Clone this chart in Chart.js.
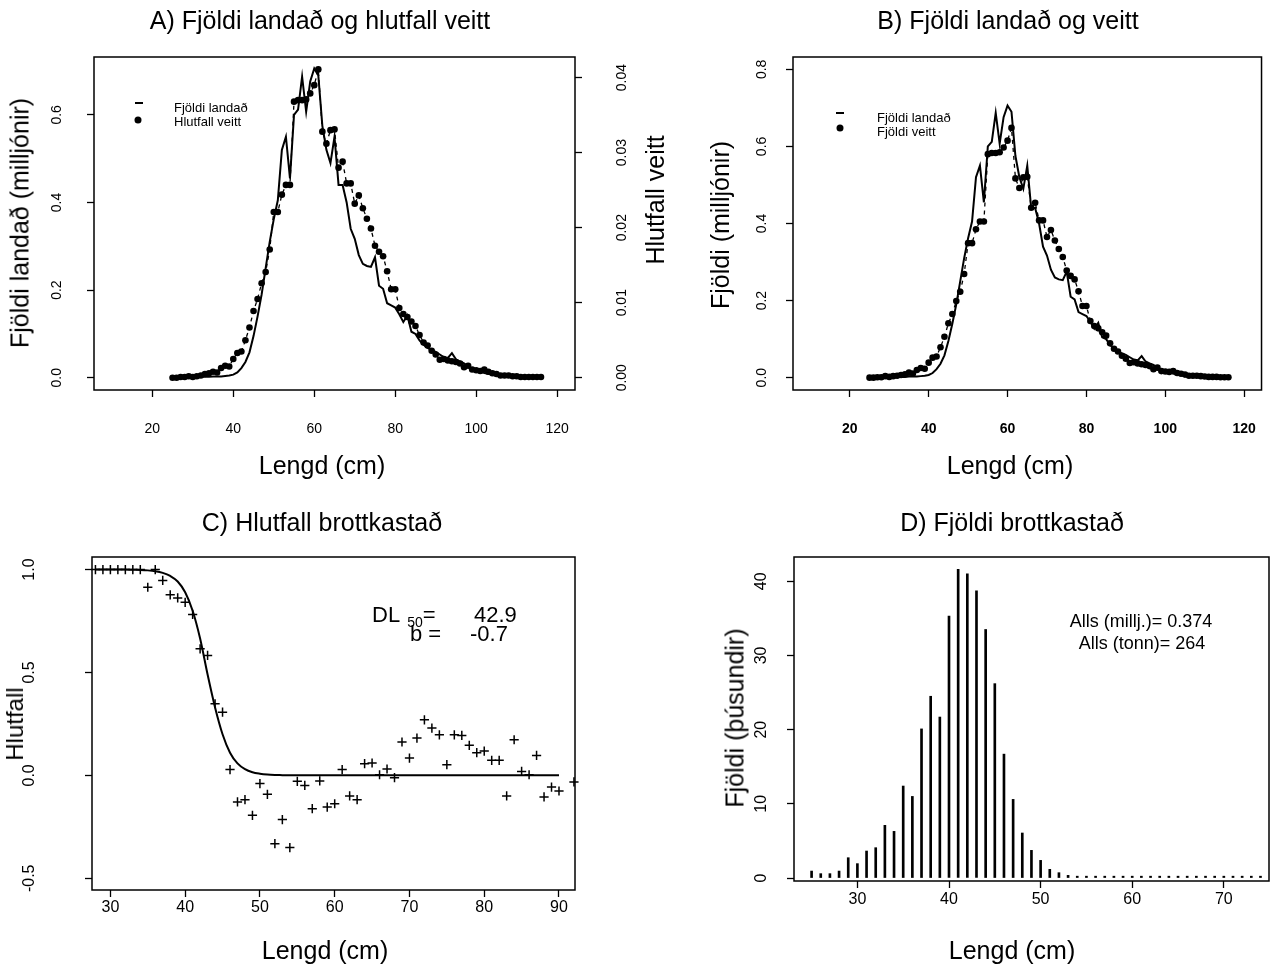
<!DOCTYPE html>
<html lang="is">
<head>
<meta charset="UTF-8">
<title>Fjöldi landað og brottkastað</title>
<script src="https://cdn.jsdelivr.net/npm/chart.js"></script>
<style>
    body { margin: 0; background: #fff; color: #000; font-family: "Liberation Sans", Arial, sans-serif; }
    #page { position: relative; width: 1280px; height: 978px; overflow: hidden; }
    canvas { position: absolute; }
    .t { position: absolute; white-space: nowrap; line-height: 1; transform: translate(-50%, -50%); }
    .rot { transform: translate(-50%, -50%) rotate(-90deg); }
    .big { font-size: 25px; }
    .l { position: absolute; white-space: nowrap; line-height: 1; transform: translateY(-50%); }
    .leg { font-size: 13px; }
    .dash { position: absolute; width: 8px; height: 2px; background: #000; }
    .dot { position: absolute; width: 7px; height: 7px; border-radius: 50%; background: #000; transform: translate(-50%, -50%); }
</style>
</head>
<body>
<div id="page">
    <canvas id="chA" width="640" height="489" style="left:0;top:0"></canvas>
    <canvas id="chB" width="640" height="489" style="left:640px;top:0"></canvas>
    <canvas id="chC" width="640" height="489" style="left:0;top:489px"></canvas>
    <canvas id="chD" width="640" height="489" style="left:640px;top:489px"></canvas>

    <!-- titles -->
    <div class="t big" style="left:320px;top:20px">A) Fjöldi landað og hlutfall veitt</div>
    <div class="t big" style="left:1008px;top:20px">B) Fjöldi landað og veitt</div>
    <div class="t big" style="left:322px;top:522px">C) Hlutfall brottkastað</div>
    <div class="t big" style="left:1012px;top:522px">D) Fjöldi brottkastað</div>

    <!-- axis titles -->
    <div class="t big" style="left:322px;top:465px">Lengd (cm)</div>
    <div class="t big" style="left:1010px;top:465px">Lengd (cm)</div>
    <div class="t big" style="left:325px;top:950px">Lengd (cm)</div>
    <div class="t big" style="left:1012px;top:950px">Lengd (cm)</div>
    <div class="t big rot" style="left:20px;top:223px">Fjöldi landað (milljónir)</div>
    <div class="t big rot" style="left:655px;top:200px">Hlutfall veitt</div>
    <div class="t big rot" style="left:720px;top:225px">Fjöldi (milljónir)</div>
    <div class="t rot" style="left:15px;top:724px;font-size:24px">Hlutfall</div>
    <div class="t big rot" style="left:735px;top:718px">Fjöldi (þúsundir)</div>

    <!-- legends -->
    <div class="dash" style="left:135px;top:102px"></div>
    <div class="dot" style="left:138px;top:120px"></div>
    <div class="l leg" style="left:174px;top:107px">Fjöldi landað</div>
    <div class="l leg" style="left:174px;top:121px">Hlutfall veitt</div>
    <div class="dash" style="left:836px;top:112px"></div>
    <div class="dot" style="left:840px;top:128px"></div>
    <div class="l leg" style="left:877px;top:117px">Fjöldi landað</div>
    <div class="l leg" style="left:877px;top:131px">Fjöldi veitt</div>

    <!-- C annotation -->
    <div class="l" style="left:372px;top:615px;font-size:22px">DL<span style="font-size:14px;position:relative;top:5px;margin-left:7px">50</span>=</div>
    <div class="l" style="left:474px;top:615px;font-size:22px">42.9</div>
    <div class="l" style="left:410px;top:634px;font-size:22px">b =</div>
    <div class="l" style="left:470px;top:634px;font-size:22px">-0.7</div>

    <!-- D annotation -->
    <div class="t" style="left:1141px;top:621px;font-size:18px">Alls (millj.)= 0.374</div>
    <div class="t" style="left:1142px;top:643px;font-size:18px">Alls (tonn)= 264</div>
</div>

<script>
    // A og B: lengdir, landaður fjöldi og veitt
    const lengdAB = [
        25, 26, 27, 28, 29, 30, 31, 32, 33, 34,
        35, 36, 37, 38, 39, 40, 41, 42, 43, 44,
        45, 46, 47, 48, 49, 50, 51, 52, 53, 54,
        55, 56, 57, 58, 59, 60, 61, 62, 63, 64,
        65, 66, 67, 68, 69, 70, 71, 72, 73, 74,
        75, 76, 77, 78, 79, 80, 81, 82, 83, 84,
        85, 86, 87, 88, 89, 90, 91, 92, 93, 94,
        95, 96, 97, 98, 99, 100, 101, 102, 103, 104,
        105, 106, 107, 108, 109, 110, 111, 112, 113, 114,
        115, 116
    ];
    const landad = [
        0.001, 0.001, 0.001, 0.001, 0.001, 0.002, 0.002, 0.002, 0.002, 0.002,
        0.003, 0.003, 0.003, 0.004, 0.005, 0.007, 0.012, 0.022, 0.036, 0.058,
        0.095, 0.140, 0.190, 0.250, 0.310, 0.362, 0.405, 0.520, 0.550, 0.455,
        0.600, 0.612, 0.687, 0.607, 0.676, 0.706, 0.690, 0.575, 0.520, 0.490,
        0.550, 0.440, 0.440, 0.400, 0.340, 0.317, 0.280, 0.260, 0.255, 0.253,
        0.275, 0.210, 0.203, 0.170, 0.165, 0.160, 0.145, 0.127, 0.142, 0.105,
        0.100, 0.085, 0.075, 0.068, 0.063, 0.059, 0.053, 0.047, 0.045, 0.056,
        0.042, 0.037, 0.033, 0.026, 0.020, 0.017, 0.014, 0.011, 0.009, 0.007,
        0.006, 0.005, 0.004, 0.003, 0.002, 0.002, 0.001, 0.001, 0.001, 0.001,
        0.001, 0.001
    ];
    const hlutfallVeitt = [
        0, 0, 0.0001, 0.0001, 0.0002, 0.0001, 0.0002, 0.0003, 0.0005, 0.0006,
        0.0008, 0.0007, 0.0013, 0.0016, 0.0015, 0.0025, 0.0033, 0.0035, 0.0050, 0.0067,
        0.0089, 0.0105, 0.0126, 0.0141, 0.0171, 0.0221, 0.0221, 0.0244, 0.0257, 0.0257,
        0.0368, 0.0370, 0.0370, 0.0371, 0.0379, 0.0390, 0.0411, 0.0328, 0.0312, 0.0330,
        0.0331, 0.0280, 0.0288, 0.0259, 0.0259, 0.0232, 0.0243, 0.0226, 0.0212, 0.0199,
        0.0176, 0.0168, 0.0162, 0.0142, 0.0118, 0.0118, 0.0093, 0.0085, 0.0081, 0.0075,
        0.0069, 0.0057, 0.0047, 0.0043, 0.0036, 0.0031, 0.0024, 0.0025, 0.0023, 0.0022,
        0.0021, 0.0019, 0.0014, 0.0016, 0.0011, 0.0010, 0.0009, 0.0011, 0.0008, 0.0006,
        0.0005, 0.0003, 0.0003, 0.0003, 0.0002, 0.0002, 0.0001, 0.0001, 0.0001, 0.0001,
        0.0001, 0.0001
    ];
    const fjoldiVeitt = [
        0, 0, 0.001, 0.001, 0.004, 0.002, 0.004, 0.005, 0.007, 0.009,
        0.013, 0.011, 0.020, 0.025, 0.023, 0.039, 0.052, 0.055, 0.079, 0.106,
        0.141, 0.165, 0.199, 0.223, 0.269, 0.349, 0.349, 0.385, 0.405, 0.405,
        0.580, 0.583, 0.583, 0.585, 0.597, 0.615, 0.648, 0.517, 0.492, 0.520,
        0.521, 0.441, 0.454, 0.408, 0.408, 0.365, 0.383, 0.356, 0.334, 0.313,
        0.278, 0.264, 0.255, 0.224, 0.186, 0.186, 0.147, 0.134, 0.128, 0.118,
        0.109, 0.089, 0.075, 0.068, 0.057, 0.049, 0.038, 0.040, 0.037, 0.035,
        0.033, 0.030, 0.022, 0.026, 0.017, 0.016, 0.015, 0.017, 0.012, 0.010,
        0.008, 0.005, 0.005, 0.005, 0.004, 0.003, 0.002, 0.002, 0.002, 0.001,
        0.001, 0.001
    ];

    // C: hlutfall brottkastað og aðfelld kúrfa
    const lengdC = [
        28, 29, 30, 31, 32, 33, 34, 35, 36, 37,
        38, 39, 40, 41, 42, 43, 44, 45, 46, 47,
        48, 49, 50, 51, 52, 53, 54, 55, 56, 57,
        58, 59, 60, 61, 62, 63, 64, 65, 66, 67,
        68, 69, 70, 71, 72, 73, 74, 75, 76, 77,
        78, 79, 80, 81, 82, 83, 84, 85, 86, 87,
        88, 89, 90, 92
    ];
    const hlutfallBrott = [
        1.0, 1.0, 1.0, 1.0, 1.0, 1.0, 1.0, 0.914, 1.0, 0.947,
        0.877, 0.862, 0.841, 0.782, 0.615, 0.583, 0.348, 0.307, 0.028, -0.129,
        -0.118, -0.194, -0.040, -0.092, -0.332, -0.215, -0.351, -0.029, -0.049, -0.162,
        -0.027, -0.154, -0.138, 0.028, -0.100, -0.118, 0.057, 0.060, 0.003, 0.031,
        -0.011, 0.162, 0.084, 0.181, 0.270, 0.230, 0.197, 0.052, 0.197, 0.194,
        0.146, 0.110, 0.118, 0.073, 0.073, -0.100, 0.173, 0.019, 0.003, 0.097,
        -0.105, -0.057, -0.076, -0.032
    ];
    const lengdKurfa = [
        28, 29, 30, 31, 32, 33, 34, 35, 36, 37,
        38, 39, 40, 41, 42, 43, 44, 45, 46, 47,
        48, 49, 50, 51, 52, 53, 54, 56, 60, 70, 80, 90
    ];
    const kurfa = [
        1.000, 1.000, 1.000, 1.000, 1.000, 0.999, 0.998, 0.996, 0.992, 0.984,
        0.969, 0.942, 0.890, 0.800, 0.665, 0.490, 0.330, 0.200, 0.110, 0.058,
        0.030, 0.015, 0.008, 0.004, 0.002, 0.001, 0, 0, 0, 0, 0, 0
    ];

    // D: fjöldi brottkastað (þúsundir)
    const lengdD = [
        25, 26, 27, 28, 29, 30, 31, 32, 33, 34,
        35, 36, 37, 38, 39, 40, 41, 42, 43, 44,
        45, 46, 47, 48, 49, 50, 51, 52, 53, 54,
        55, 56, 57, 58, 59, 60, 61, 62, 63, 64,
        65, 66, 67, 68, 69, 70, 71, 72, 73, 74
    ];
    const fjoldiBrott = [
        0.94, 0.59, 0.59, 0.94, 2.74, 1.94, 3.64, 4.09, 7.10, 6.29,
        12.4, 11.0, 20.1, 24.5, 21.7, 35.3, 41.6, 41.0, 38.7, 33.5,
        26.2, 16.7, 10.6, 6.07, 3.73, 2.38, 1.17, 0.72, 0.36, 0.25,
        0.25, 0.25, 0.25, 0.25, 0.25, 0.25, 0.25, 0.25, 0.25, 0.25,
        0.25, 0.25, 0.25, 0.25, 0.25, 0.25, 0.25, 0.25, 0.25, 0.25
    ];

    // tick values and labels
    const xTickAB = [20, 40, 60, 80, 100, 120];
    const yTickA = [0, 0.2, 0.4, 0.6];
    const yLabA = ['0.0', '0.2', '0.4', '0.6'];
    const y2TickA = [0, 0.01, 0.02, 0.03, 0.04];
    const y2LabA = ['0.00', '0.01', '0.02', '0.03', '0.04'];
    const yTickB = [0, 0.2, 0.4, 0.6, 0.8];
    const yLabB = ['0.0', '0.2', '0.4', '0.6', '0.8'];
    const xTickC = [30, 40, 50, 60, 70, 80, 90];
    const yTickC = [-0.5, 0, 0.5, 1];
    const yLabC = ['-0.5', '0.0', '0.5', '1.0'];
    const xTickD = [30, 40, 50, 60, 70];
    const yTickD = [0, 10, 20, 30, 40];
    const yLabD = ['0', '10', '20', '30', '40'];

    const FONT = '"Liberation Sans", Arial, sans-serif';
    const pts = (xs, ys) => xs.map((x, i) => ({ x: x, y: ys[i] }));

    // R style box round the plot region
    const frameBox = {
        id: 'frameBox',
        afterDraw(chart) {
            const { ctx, chartArea: a } = chart;
            ctx.save();
            ctx.strokeStyle = '#000';
            ctx.lineWidth = 1.5;
            ctx.strokeRect(a.left, a.top, a.right - a.left, a.bottom - a.top);
            ctx.restore();
        }
    };

    // y tick labels written along the axis, as R does
    const yLabels = {
        id: 'yLabels',
        afterDraw(chart, args, opts) {
            const ctx = chart.ctx;
            opts.axes.forEach(ax => {
                const sc = chart.scales[ax.id];
                ctx.save();
                ctx.font = ax.size + 'px ' + FONT;
                ctx.fillStyle = '#000';
                ctx.textAlign = 'center';
                ctx.textBaseline = 'middle';
                ax.values.forEach((v, i) => {
                    ctx.save();
                    ctx.translate(ax.x, sc.getPixelForValue(v));
                    ctx.rotate(-Math.PI / 2);
                    ctx.fillText(ax.labels[i], 0, 0);
                    ctx.restore();
                });
                ctx.restore();
            });
        }
    };

    // x axis: box height fixed so the plot area lands where wanted
    function xScale(min, max, ticks, size, pad, bold) {
        return {
            type: 'linear', position: 'bottom', min: min, max: max, offset: false,
            afterBuildTicks: s => { s.ticks = ticks.map(v => ({ value: v })); },
            afterFit: s => { s.height = 60; },
            border: { display: false },
            grid: { offset: false, drawOnChartArea: false, tickLength: 7, tickColor: '#000', tickWidth: 1.3 },
            ticks: {
                autoSkip: false, maxRotation: 0, padding: pad, color: '#000',
                font: { family: FONT, size: size, weight: bold ? 'bold' : 'normal' }
            }
        };
    }

    function yScale(min, max, ticks, pos) {
        return {
            type: 'linear', position: pos, min: min, max: max,
            afterBuildTicks: s => { s.ticks = ticks.map(v => ({ value: v })); },
            afterFit: s => { s.width = 10; },
            border: { display: false },
            grid: { drawOnChartArea: false, tickLength: 7, tickColor: '#000', tickWidth: 1.3 },
            ticks: { display: false }
        };
    }

    const base = {
        responsive: false,
        animation: false,
        devicePixelRatio: 1,
        events: []
    };

    // A) Fjöldi landað og hlutfall veitt
    new Chart(document.getElementById('chA'), {
        type: 'line',
        data: {
            datasets: [
                {
                    data: pts(lengdAB, hlutfallVeitt), yAxisID: 'y2',
                    borderColor: '#000', borderWidth: 1.3, borderDash: [4, 4],
                    pointRadius: 3.3, pointBackgroundColor: '#000', pointBorderWidth: 0
                },
                {
                    data: pts(lengdAB, landad), yAxisID: 'y',
                    borderColor: '#000', borderWidth: 2, pointRadius: 0
                }
            ]
        },
        options: Object.assign({}, base, {
            layout: { padding: { left: 84, right: 55, top: 57, bottom: 39 } },
            scales: {
                x: xScale(5.6, 124.4, xTickAB, 14, 24, false),
                y: yScale(-0.028, 0.732, yTickA, 'left'),
                y2: yScale(-0.001635, 0.04275, y2TickA, 'right')
            },
            plugins: {
                legend: { display: false }, tooltip: { enabled: false },
                yLabels: { axes: [
                    { id: 'y', x: 57, size: 14, values: yTickA, labels: yLabA },
                    { id: 'y2', x: 622, size: 14, values: y2TickA, labels: y2LabA }
                ] }
            }
        }),
        plugins: [frameBox, yLabels]
    });

    // B) Fjöldi landað og veitt
    new Chart(document.getElementById('chB'), {
        type: 'line',
        data: {
            datasets: [
                {
                    data: pts(lengdAB, fjoldiVeitt),
                    borderColor: '#000', borderWidth: 1.3, borderDash: [4, 4],
                    pointRadius: 3.3, pointBackgroundColor: '#000', pointBorderWidth: 0
                },
                {
                    data: pts(lengdAB, landad),
                    borderColor: '#000', borderWidth: 2, pointRadius: 0
                }
            ]
        },
        options: Object.assign({}, base, {
            layout: { padding: { left: 143, right: 3, top: 57, bottom: 39 } },
            scales: {
                x: xScale(5.6, 124.4, xTickAB, 14, 24, true),
                y: yScale(-0.032, 0.832, yTickB, 'left')
            },
            plugins: {
                legend: { display: false }, tooltip: { enabled: false },
                yLabels: { axes: [{ id: 'y', x: 122, size: 14, values: yTickB, labels: yLabB }] }
            }
        }),
        plugins: [frameBox, yLabels]
    });

    // C) Hlutfall brottkastað
    new Chart(document.getElementById('chC'), {
        type: 'line',
        data: {
            datasets: [
                {
                    data: pts(lengdC, hlutfallBrott), showLine: false, clip: false,
                    pointStyle: 'cross', pointRadius: 4.6, borderColor: '#000',
                    pointBorderColor: '#000', pointBorderWidth: 1.5
                },
                {
                    data: pts(lengdKurfa, kurfa), cubicInterpolationMode: 'monotone',
                    borderColor: '#000', borderWidth: 2, pointRadius: 0
                }
            ]
        },
        options: Object.assign({}, base, {
            layout: { padding: { left: 82, right: 65, top: 68, bottom: 28 } },
            scales: {
                x: xScale(27.54, 92.14, xTickC, 16, 1, false),
                y: yScale(-0.557, 1.061, yTickC, 'left')
            },
            plugins: {
                legend: { display: false }, tooltip: { enabled: false },
                yLabels: { axes: [{ id: 'y', x: 30, size: 16, values: yTickC, labels: yLabC }] }
            }
        }),
        plugins: [frameBox, yLabels]
    });

    // D) Fjöldi brottkastað
    new Chart(document.getElementById('chD'), {
        type: 'bar',
        data: {
            datasets: [{
                data: pts(lengdD, fjoldiBrott),
                backgroundColor: '#000', borderWidth: 0, barThickness: 2
            }]
        },
        options: Object.assign({}, base, {
            layout: { padding: { left: 144, right: 11, top: 68, bottom: 37 } },
            scales: {
                x: xScale(23.08, 74.93, xTickD, 16, 2, false),
                y: yScale(-0.4, 43.27, yTickD, 'left')
            },
            plugins: {
                legend: { display: false }, tooltip: { enabled: false },
                yLabels: { axes: [{ id: 'y', x: 122, size: 16, values: yTickD, labels: yLabD }] }
            }
        }),
        plugins: [frameBox, yLabels]
    });
</script>
</body>
</html>
